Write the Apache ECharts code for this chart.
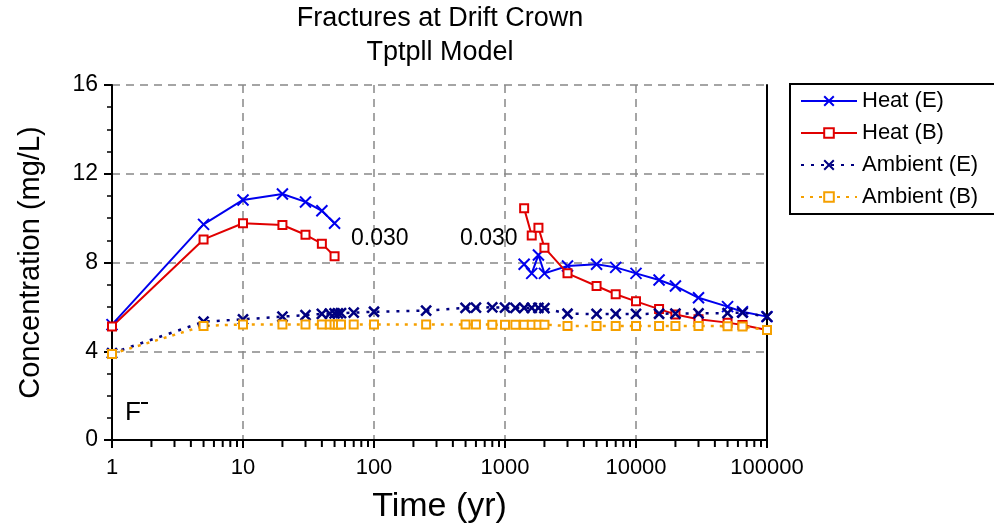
<!DOCTYPE html>
<html>
<head>
<meta charset="utf-8">
<script src="https://cdn.jsdelivr.net/npm/echarts@6/dist/echarts.min.js"></script>
<style>html,body{margin:0;padding:0;background:#fff}#c{width:994px;height:524px}</style>
</head>
<body>
<div id="c"></div>
<script>
// ---- data ----
const heatTimes = [1, 5, 10, 20, 30, 40, 50, 200, 1400, 1600, 1800, 2000, 3000, 5000, 7000, 10000, 15000, 20000, 30000, 50000, 65000, 100000];
const heatE = [5.2, 9.72, 10.82, 11.09, 10.73, 10.33, 9.77, null, 7.92, 7.51, 8.34, 7.51, 7.84, 7.92, 7.78, 7.51, 7.21, 6.94, 6.41, 6.01, 5.78, 5.56];
const heatB = [5.12, 9.04, 9.77, 9.69, 9.25, 8.85, 8.28, null, 10.44, 9.22, 9.57, 8.67, 7.51, 6.94, 6.57, 6.25, 5.9, 5.66, 5.44, 5.29, 5.18, 4.96];
const ambTimes = [1, 5, 10, 20, 30, 40, 46, 50, 53, 56, 70, 100, 250, 500, 600, 800, 1000, 1200, 1400, 1600, 1800, 2000, 3000, 5000, 7000, 10000, 15000, 20000, 30000, 50000, 65000, 100000];
const ambE = [3.91, 5.33, 5.44, 5.56, 5.63, 5.68, 5.7, 5.71, 5.71, 5.72, 5.74, 5.78, 5.83, 5.96, 5.97, 5.98, 5.97, 5.96, 5.96, 5.95, 5.95, 5.94, 5.69, 5.68, 5.68, 5.68, 5.69, 5.7, 5.71, 5.72, 5.74, 5.56];
const ambB = [3.88, 5.14, 5.21, 5.21, 5.21, 5.21, 5.21, 5.21, 5.21, 5.21, 5.21, 5.21, 5.21, 5.21, 5.21, 5.2, 5.2, 5.2, 5.2, 5.2, 5.2, 5.2, 5.14, 5.14, 5.14, 5.14, 5.14, 5.14, 5.14, 5.13, 5.11, 4.96];
const seriesNames = ['Heat (E)', 'Heat (B)', 'Ambient (E)', 'Ambient (B)'];
const xTickLabels = [1, 10, 100, 1000, 10000, 100000];
const yTicks = [0, 4, 8, 12, 16];
// minor tick values 2..9 in each decade
const minorXTicks = [];
for (let d = 1; d < 100000; d *= 10) for (let k = 2; k <= 9; k++) minorXTicks.push(d * k);

function pairs(t, v) { return t.map((x, i) => [x, v[i] === null ? '-' : v[i]]); }

const FONT = 'Liberation Sans, Arial, sans-serif';
const X = 'path://M0,0L10,10M0,10L10,0';
const blackLine = {show: true, lineStyle: {color: '#000', width: 2}};
const chart = echarts.init(document.getElementById('c'), null, {renderer: 'canvas'});
chart.setOption({
  animation: false,
  backgroundColor: '#fff',
  textStyle: {fontFamily: FONT, color: '#000'},
  grid: {left: 112, right: 227, top: 85, bottom: 84, outerBoundsMode: 'none', containLabel: false},
  legend: {
    orient: 'vertical', left: 790, top: 84,
    data: seriesNames,
    itemWidth: 56, itemHeight: 12, itemGap: 10,
    textStyle: {fontSize: 22, color: '#000', fontFamily: FONT},
    borderColor: '#000', borderWidth: 2, padding: [6, 40, 6, 10]
  },
  xAxis: [{
    type: 'log', logBase: 10, min: 1, max: 100000,
    axisLine: blackLine,
    axisTick: {show: true, length: 8, lineStyle: {color: '#000', width: 2}},
    axisLabel: {fontSize: 22, color: '#000', margin: 17, fontFamily: FONT,
      formatter: v => xTickLabels.includes(Math.round(v)) ? String(Math.round(v)) : ''},
    splitLine: {show: true, lineStyle: {color: '#888', type: [8, 6], width: 1.5}},
    name: 'Time (yr)', nameLocation: 'middle', nameGap: 50,
    nameTextStyle: {fontSize: 34, color: '#000', fontFamily: FONT}
  }, {
    type: 'log', logBase: 10, min: 1, max: 100000, position: 'top',
    axisLine: blackLine, axisTick: {show: false}, axisLabel: {show: false}, splitLine: {show: false}
  }],
  yAxis: [{
    type: 'value', min: 0, max: 16, interval: 4,
    axisLine: blackLine,
    axisTick: {show: true, length: 8, lineStyle: {color: '#000', width: 2}},
    minorTick: {show: true, splitNumber: 4, length: 5, lineStyle: {color: '#000', width: 1.5}},
    axisLabel: {fontSize: 23, color: '#000', margin: 14, fontFamily: FONT,
      formatter: v => yTicks.includes(v) ? String(v) : ''},
    splitLine: {show: true, lineStyle: {color: '#888', type: [8, 6], width: 1.5}},
    name: 'Concentration (mg/L)', nameLocation: 'middle', nameGap: 67,
    nameTextStyle: {fontSize: 29, color: '#000', fontFamily: FONT}
  }, {
    type: 'value', min: 0, max: 16, interval: 4, position: 'right',
    axisLine: blackLine, axisTick: {show: false}, axisLabel: {show: false}, splitLine: {show: false}
  }],
  series: [
    {name: 'Heat (E)', type: 'line', data: pairs(heatTimes, heatE), connectNulls: false,
      symbol: X, symbolSize: 11, showAllSymbol: true,
      lineStyle: {color: '#0000ee', width: 2},
      itemStyle: {color: '#0000ee', borderColor: '#0000ee', borderWidth: 2}},
    {name: 'Heat (B)', type: 'line', data: pairs(heatTimes, heatB), connectNulls: false,
      symbol: 'emptyRect', symbolSize: 8, showAllSymbol: true,
      lineStyle: {color: '#e00000', width: 2},
      itemStyle: {color: '#e00000', borderColor: '#e00000', borderWidth: 1.8}},
    {name: 'Ambient (E)', type: 'line', data: pairs(ambTimes, ambE),
      symbol: X, symbolSize: 10, showAllSymbol: true,
      lineStyle: {color: '#000080', width: 2.5, type: [3, 7]},
      itemStyle: {color: '#000080', borderColor: '#000080', borderWidth: 2.5}},
    {name: 'Ambient (B)', type: 'line', data: pairs(ambTimes, ambB),
      symbol: 'emptyRect', symbolSize: 8, showAllSymbol: true,
      lineStyle: {color: '#f5a000', width: 2.5, type: [3, 6]},
      itemStyle: {color: '#f5a000', borderColor: '#f5a000', borderWidth: 1.8}}
  ]
});
// texts plus minor log ticks placed through the axis scale
const y0 = chart.convertToPixel({yAxisIndex: 0}, 0);
const graphics = [
  {type: 'text', style: {text: 'Fractures at Drift Crown', x: 440, y: 19, fontSize: 27, fontFamily: FONT, fill: '#000', align: 'center', verticalAlign: 'middle'}},
  {type: 'text', style: {text: 'Tptpll Model', x: 440, y: 53, fontSize: 27, fontFamily: FONT, fill: '#000', align: 'center', verticalAlign: 'middle'}},
  {type: 'text', style: {text: '0.030', x: 351, y: 239, fontSize: 23, fontFamily: FONT, fill: '#000', align: 'left', verticalAlign: 'middle'}},
  {type: 'text', style: {text: '0.030', x: 460, y: 239, fontSize: 23, fontFamily: FONT, fill: '#000', align: 'left', verticalAlign: 'middle'}},
  {type: 'text', style: {text: 'F', x: 125, y: 413, fontSize: 26, fontFamily: FONT, fill: '#000', align: 'left', verticalAlign: 'middle'}},
  {type: 'rect', shape: {x: 141, y: 402, width: 7, height: 2}, style: {fill: '#000'}}
];
minorXTicks.forEach(t => {
  const px = chart.convertToPixel({xAxisIndex: 0}, t);
  graphics.push({type: 'rect', shape: {x: px - 1, y: y0, width: 2, height: 7}, style: {fill: '#000'}, z: 100});
});
chart.setOption({graphic: graphics});
</script>
</body>
</html>
